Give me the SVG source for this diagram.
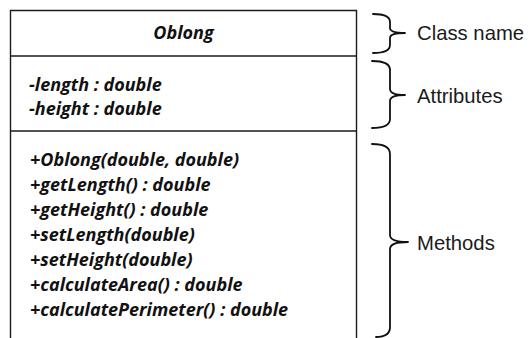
<svg xmlns="http://www.w3.org/2000/svg" width="532" height="338" viewBox="0 0 532 338">
  <style>
    .frame { fill: none; stroke: #1a1a1a; stroke-width: 1.4; }
    .uml { font-family: "Open Sans", "Noto Sans", "DejaVu Sans", sans-serif; font-weight: bold; font-style: italic; font-size: 18px; fill: #111; }
    .note { font-family: "Liberation Sans", Arial, Helvetica, sans-serif; font-size: 20.3px; fill: #1a1a1a; }
    .brace { fill: none; stroke: #111; stroke-width: 1.8; stroke-linecap: round; stroke-linejoin: round; }
  </style>
  <rect width="532" height="338" fill="#ffffff"/>

  <!-- UML class box for Oblong (open at the bottom edge) -->
  <g id="oblong-class">
    <path class="frame" d="M10.5,350 V10.5 H356.5 V350"/>
    <line class="frame" x1="10.5" y1="56" x2="356.5" y2="56"/>
    <line class="frame" x1="10.5" y1="131" x2="356.5" y2="131"/>

    <text class="uml" x="183.5" y="39" text-anchor="middle">Oblong</text>

    <text class="uml" x="29" y="90.5">-length : double</text>
    <text class="uml" x="29" y="115">-height : double</text>

    <text class="uml" x="30" y="166">+Oblong(double, double)</text>
    <text class="uml" x="30" y="191">+getLength() : double</text>
    <text class="uml" x="30" y="216">+getHeight() : double</text>
    <text class="uml" x="30" y="241">+setLength(double)</text>
    <text class="uml" x="30" y="266">+setHeight(double)</text>
    <text class="uml" x="30" y="291">+calculateArea() : double</text>
    <text class="uml" x="30" y="316">+calculatePerimeter() : double</text>
  </g>

  <!-- Braces pointing at each compartment -->
  <g id="connectors">
    <path class="brace" d="M373,14 Q390,14 390,22 L390,28 Q390,33 405,33 Q390,33 390,38 L390,45 Q390,53 373,53"/>
    <path class="brace" d="M372,61 Q390,61 390,70 L390,89 Q390,95 405,95 Q390,95 390,101 L390,119 Q390,128 372,128"/>
    <path class="brace" d="M372,144 Q390,144 390,154 L390,235 Q390,242 408,242 Q390,242 390,249 L390,327 Q390,337 376,337"/>
  </g>

  <g id="label-class-name">
    <text class="note" x="417" y="39.5">Class name</text>
  </g>
  <g id="label-attributes">
    <text class="note" x="417" y="103">Attributes</text>
  </g>
  <g id="label-methods">
    <text class="note" x="417" y="250">Methods</text>
  </g>
</svg>
